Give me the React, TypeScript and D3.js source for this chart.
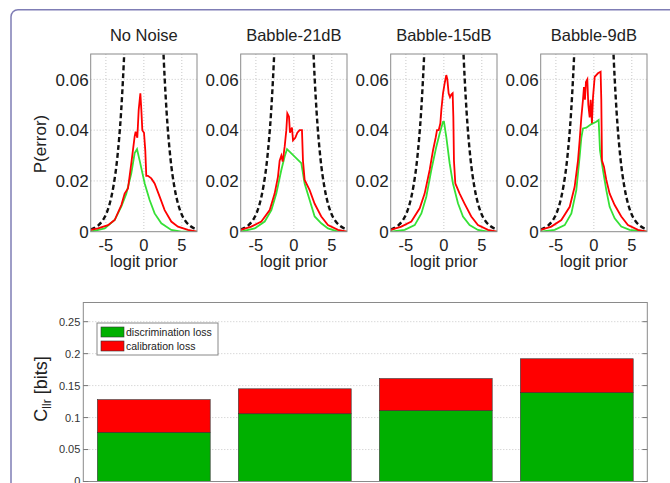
import * as d3 from 'd3'

const FONT = "'Liberation Sans', Arial, sans-serif"

// top row: error-rate curves vs logit prior
const panelTitles = ['No Noise', 'Babble-21dB', 'Babble-15dB', 'Babble-9dB']
const xTicks = [-5, 0, 5]
const yTicks = [0, 0.02, 0.04, 0.06]

// dashed reference curve (left and right branches)
const refLeft: [number, number][] = [[-7, 0.0009], [-6.5, 0.0015], [-6, 0.0025], [-5.5, 0.0041], [-5, 0.0067], [-4.5, 0.011], [-4, 0.018], [-3.5, 0.029], [-3, 0.047], [-2.75, 0.06], [-2.5, 0.076], [-2.25, 0.095]]
const refRight: [number, number][] = [[2.25, 0.095], [2.5, 0.076], [2.75, 0.06], [3, 0.047], [3.5, 0.029], [4, 0.018], [4.5, 0.011], [5, 0.0067], [5.5, 0.0041], [6, 0.0025], [6.5, 0.0015], [7, 0.0009]]

const greenNoNoise: [number, number][] = [[-7, 0], [-5.16, 0.0013], [-3.84, 0.0046], [-2.96, 0.01], [-2.31, 0.015], [-1.65, 0.023], [-1.21, 0.031], [-0.9, 0.0325], [-0.55, 0.028], [0.11, 0.019], [0.76, 0.0125], [1.42, 0.0072], [2.3, 0.0033], [3.61, 0.0007], [4.93, 0], [7, 0]]
const redNoNoise: [number, number][] = [[-7, 0.0007], [-6.04, 0.0013], [-4.72, 0.0026], [-3.84, 0.0046], [-2.96, 0.0105], [-2.53, 0.015], [-2.09, 0.017], [-1.65, 0.027], [-1.21, 0.0375], [-1.08, 0.0394], [-0.86, 0.037], [-0.68, 0.048], [-0.46, 0.0545], [-0.33, 0.048], [-0.2, 0.04], [0.02, 0.039], [0.19, 0.032], [0.32, 0.022], [0.54, 0.022], [0.98, 0.021], [1.42, 0.019], [2.08, 0.0138], [2.74, 0.0085], [3.61, 0.004], [4.49, 0.002], [5.81, 0.0007], [7, 0]]

const green21: [number, number][] = [[-7, 0], [-5.16, 0.0013], [-3.84, 0.004], [-2.96, 0.0085], [-2.31, 0.015], [-1.65, 0.0243], [-1.21, 0.0296], [-0.9, 0.0325], [0.98, 0.027], [1.42, 0.019], [2.08, 0.0125], [2.74, 0.006], [3.61, 0.0033], [4.49, 0.0013], [5.81, 0], [7, 0]]
const red21: [number, number][] = [[-7, 0.0007], [-5.6, 0.002], [-4.28, 0.004], [-3.18, 0.0085], [-2.53, 0.015], [-2.09, 0.0217], [-1.87, 0.028], [-1.65, 0.03], [-1.47, 0.0276], [-1.21, 0.0335], [-0.99, 0.04], [-0.86, 0.0466], [-0.64, 0.0453], [-0.51, 0.039], [-0.25, 0.041], [-0.11, 0.036], [0.19, 0.037], [0.46, 0.039], [0.76, 0.04], [1.07, 0.04], [1.2, 0.028], [1.42, 0.0204], [2.08, 0.0164], [2.74, 0.011], [3.61, 0.006], [4.49, 0.0026], [5.81, 0.0007], [7, 0]]

const green15: [number, number][] = [[-7, 0], [-5.16, 0.0007], [-3.84, 0.0026], [-2.96, 0.0072], [-2.31, 0.0138], [-1.65, 0.0243], [-0.99, 0.0335], [-0.55, 0.0387], [-0.11, 0.0433], [0.02, 0.0433], [0.32, 0.0374], [0.76, 0.027], [1.2, 0.019], [1.86, 0.0112], [2.52, 0.006], [3.39, 0.0026], [4.49, 0.0007], [5.81, 0], [7, 0]]
const red15: [number, number][] = [[-7, 0.0007], [-5.6, 0.002], [-4.28, 0.004], [-3.18, 0.0092], [-2.53, 0.015], [-1.87, 0.0243], [-1.43, 0.032], [-1.08, 0.037], [-0.9, 0.04], [-0.68, 0.04], [-0.46, 0.0427], [-0.33, 0.048], [-0.11, 0.0545], [0.11, 0.0585], [0.32, 0.0617], [0.46, 0.06], [0.63, 0.0545], [0.81, 0.053], [0.98, 0.054], [1.16, 0.0545], [1.25, 0.0453], [1.33, 0.028], [1.51, 0.019], [2.08, 0.015], [2.74, 0.011], [3.61, 0.006], [4.49, 0.0026], [5.81, 0.0007], [7, 0]]

const green9: [number, number][] = [[-7, 0], [-5.16, 0.0007], [-3.84, 0.0026], [-2.96, 0.0072], [-2.31, 0.0164], [-1.87, 0.0296], [-1.65, 0.037], [-1.43, 0.0407], [-0.99, 0.041], [-0.33, 0.0424], [0.32, 0.0433], [0.63, 0.044], [0.81, 0.032], [1.2, 0.0243], [1.64, 0.0164], [2.08, 0.0098], [2.74, 0.0053], [3.61, 0.002], [4.71, 0.0007], [7, 0]]
const red9: [number, number][] = [[-7, 0.0007], [-5.6, 0.002], [-4.28, 0.0046], [-3.18, 0.0098], [-2.53, 0.0177], [-2.09, 0.028], [-1.87, 0.036], [-1.65, 0.045], [-1.43, 0.052], [-1.3, 0.057], [-1.17, 0.052], [-1.04, 0.059], [-0.86, 0.06], [-0.73, 0.05], [-0.55, 0.045], [-0.42, 0.052], [-0.25, 0.0427], [-0.11, 0.053], [0.11, 0.061], [0.54, 0.0624], [0.89, 0.063], [0.98, 0.052], [1.07, 0.028], [1.33, 0.0256], [1.64, 0.0204], [2.08, 0.015], [2.74, 0.0105], [3.61, 0.006], [4.49, 0.0026], [5.81, 0.0007], [7, 0]]

const greenCurves = [greenNoNoise, green21, green15, green9]
const redCurves = [redNoNoise, red21, red15, red9]

// bottom: stacked Cllr bars
const barConditions = ['No Noise', 'Babble-21dB', 'Babble-15dB', 'Babble-9dB']
const discriminationLoss = [0.077, 0.106, 0.111, 0.139]
const calibrationLoss = [0.051, 0.039, 0.05, 0.053]
const barTicks = [0, 0.05, 0.1, 0.15, 0.2, 0.25]

function Panel({ i }: { i: number }) {
  const left = 90.7 + i * 150
  const width = 106.3
  const top = 54
  const bottom = 231.7
  const x = d3.scaleLinear().domain([-7, 7]).range([left, left + width])
  const y = d3.scaleLinear().domain([0, 0.07]).range([bottom, top])
  const refLine = d3.line<[number, number]>().x(d => x(d[0])).y(d => y(d[1])).curve(d3.curveMonotoneX)
  const plain = d3.line<[number, number]>().x(d => x(d[0])).y(d => y(d[1]))
  const clipId = `clip${i}`
  const fmt = (v: number) => (v === 0 ? '0' : d3.format('.2f')(v))
  return (
    <g>
      <defs>
        <clipPath id={clipId}>
          <rect x={left} y={top} width={width} height={bottom - top} />
        </clipPath>
      </defs>
      <rect x={left} y={top} width={width} height={bottom - top} fill="#fff" />
      {xTicks.map(t => (
        <line key={'gx' + t} x1={x(t)} x2={x(t)} y1={top} y2={bottom} stroke="#c8c8c8" strokeDasharray="1,2" />
      ))}
      {yTicks.filter(t => t > 0).map(t => (
        <line key={'gy' + t} x1={left} x2={left + width} y1={y(t)} y2={y(t)} stroke="#c8c8c8" strokeDasharray="1,2" />
      ))}
      <g clipPath={`url(#${clipId})`}>
        <path d={refLine(refLeft) || ''} fill="none" stroke="#111" strokeWidth={2.4} strokeDasharray="5,3" />
        <path d={refLine(refRight) || ''} fill="none" stroke="#111" strokeWidth={2.4} strokeDasharray="5,3" />
        <path d={plain(greenCurves[i]) || ''} fill="none" stroke="#36e036" strokeWidth={1.8} />
        <path d={plain(redCurves[i]) || ''} fill="none" stroke="#f00" strokeWidth={1.8} />
      </g>
      <rect x={left} y={top} width={width} height={bottom - top} fill="none" stroke="#8a8a8a" strokeWidth={1} />
      {xTicks.map(t => (
        <text key={'tx' + t} x={x(t)} y={250.5} textAnchor="middle" fontSize={16.5} fontFamily={FONT} fill="#222">
          {t < 0 ? '-' + Math.abs(t) : t}
        </text>
      ))}
      {yTicks.map(t => (
        <text key={'ty' + t} x={left - 2} y={y(t)} dy="0.36em" textAnchor="end" fontSize={17} fontFamily={FONT} fill="#222">
          {fmt(t)}
        </text>
      ))}
      <text x={left + width / 2} y={267} textAnchor="middle" fontSize={16.5} fontFamily={FONT} fill="#222">logit prior</text>
      <text x={left + width / 2} y={41} textAnchor="middle" fontSize={16.5} fontFamily={FONT} fill="#222">{panelTitles[i]}</text>
    </g>
  )
}

function Bars() {
  const left = 83.3
  const right = 647.3
  const top = 302.5
  const bottom = 481.5
  const x = d3.scaleLinear().domain([0.5, 4.5]).range([left, right])
  const y = d3.scaleLinear().domain([0, 0.28]).range([bottom, top])
  const bw = x(0.8) - x(0)
  return (
    <g>
      <rect x={left} y={top} width={right - left} height={bottom - top} fill="#fff" />
      {barTicks.filter(t => t > 0).map(t => (
        <line key={'g' + t} x1={left} x2={right} y1={y(t)} y2={y(t)} stroke="#c8c8c8" strokeDasharray="1,2" />
      ))}
      {barConditions.map((c, k) => (
        <g key={c}>
          <rect x={x(k + 1) - bw / 2} y={y(discriminationLoss[k])} width={bw} height={y(0) - y(discriminationLoss[k])} fill="#00b000" stroke="#333" strokeWidth={0.6} />
          <rect x={x(k + 1) - bw / 2} y={y(discriminationLoss[k] + calibrationLoss[k])} width={bw} height={y(discriminationLoss[k]) - y(discriminationLoss[k] + calibrationLoss[k])} fill="#f00" stroke="#333" strokeWidth={0.6} />
        </g>
      ))}
      <rect x={left} y={top} width={right - left} height={bottom - top} fill="none" stroke="#8a8a8a" strokeWidth={1} />
      {barTicks.map(t => (
        <g key={'t' + t}>
          <line x1={left} x2={left + 5} y1={y(t)} y2={y(t)} stroke="#777" />
          <line x1={right - 5} x2={right} y1={y(t)} y2={y(t)} stroke="#777" />
          <text x={left - 3} y={y(t)} dy="0.36em" textAnchor="end" fontSize={11} fontFamily={FONT} fill="#333">{t}</text>
        </g>
      ))}
      <g transform="translate(47,389) rotate(-90)">
        <text textAnchor="middle" fontSize={18} fontFamily={FONT} fill="#222">
          C<tspan fontSize={12} dy={4}>llr</tspan><tspan dy={-4}> [bits]</tspan>
        </text>
      </g>
      {/* legend */}
      <rect x={97} y={323} width={121} height={32} fill="#fff" stroke="#888" strokeWidth={1} />
      <rect x={101} y={327} width={23} height={10} fill="#00b000" stroke="#333" strokeWidth={0.6} />
      <text x={126} y={332} dy="0.36em" fontSize={10.5} fontFamily={FONT} fill="#222">discrimination loss</text>
      <rect x={101} y={341} width={23} height={10} fill="#f00" stroke="#333" strokeWidth={0.6} />
      <text x={126} y={346} dy="0.36em" fontSize={10.5} fontFamily={FONT} fill="#222">calibration loss</text>
    </g>
  )
}

export default function App() {
  return (
    <svg width={670} height={483} style={{ position: 'absolute', left: 0, top: 0, background: '#fff' }}>
      <rect x={11} y={9.7} width={720} height={540} rx={7} fill="none" stroke="#7f7db5" strokeWidth={1.5} />
      {panelTitles.map((_, i) => <Panel key={i} i={i} />)}
      <text transform="translate(46,144) rotate(-90)" textAnchor="middle" fontSize={17} fontFamily={FONT} fill="#222">P(error)</text>
      <Bars />
    </svg>
  )
}
